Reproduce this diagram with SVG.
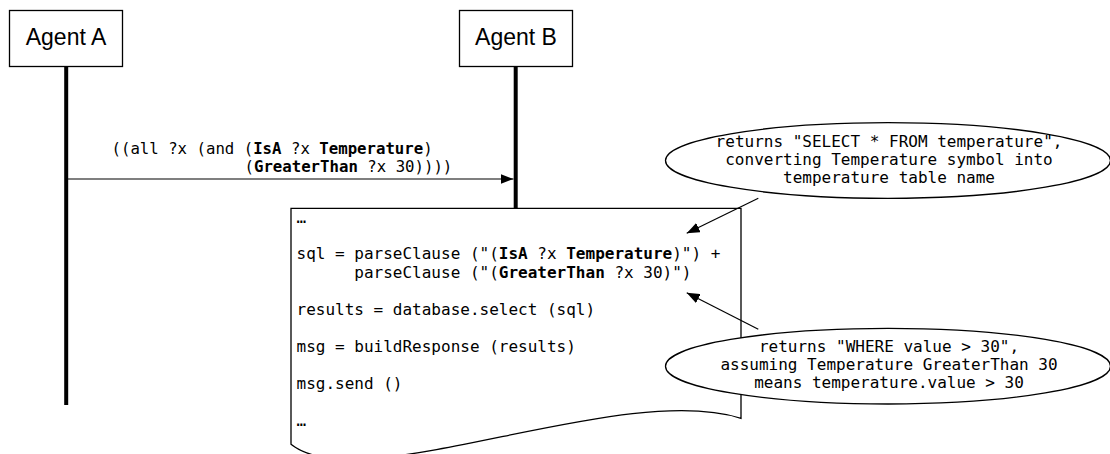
<svg xmlns="http://www.w3.org/2000/svg" width="1110" height="454" viewBox="0 0 1110 454">
<style>
.box{fill:#fff;stroke:#000;stroke-width:1.3}
.life{stroke:#000;stroke-width:4;fill:none}
.lbl{font-family:"Liberation Sans",Arial,sans-serif;font-size:23px;fill:#000;text-anchor:middle}
.mono{font-family:"DejaVu Sans Mono","Liberation Mono",monospace;font-size:16px;fill:#000}
.msg{font-family:"DejaVu Sans Mono","Liberation Mono",monospace;font-size:15.7px;fill:#000}
.mid{text-anchor:middle}
.b{font-weight:bold}
.conn{stroke:#000;stroke-width:1.2;fill:none}
</style>
<defs>
<marker id="ah" markerUnits="userSpaceOnUse" markerWidth="13" markerHeight="10" refX="13" refY="5" orient="auto">
<path d="M0,0 L13,5 L0,10 Z" fill="#000"/>
</marker>
</defs>
<g id="agentA">
<rect class="box" x="9.5" y="10.5" width="113" height="56"/>
<text class="lbl" x="66" y="45">Agent A</text>
<line class="life" x1="66.2" y1="67" x2="66.2" y2="405"/>
</g>
<g id="agentB">
<rect class="box" x="459.5" y="10.5" width="113" height="56"/>
<text class="lbl" x="516" y="45">Agent B</text>
<line class="life" x1="515.7" y1="67" x2="515.7" y2="208"/>
</g>
<g id="code">
<path class="box" d="M291,208.3 L741,208.3 L741,418.3 C620,380 360,500 291,444.3 Z"/>
<text class="mono" x="296.5" y="222.5">…</text>
<text class="mono" x="296.5" y="259">sql = parseClause ("(<tspan class="b">IsA</tspan> ?x <tspan class="b">Temperature</tspan>)") +</text>
<text class="mono" x="354.3" y="277.5">parseClause ("(<tspan class="b">GreaterThan</tspan> ?x 30)")</text>
<text class="mono" x="296.5" y="314.5">results = database.select (sql)</text>
<text class="mono" x="296.5" y="352">msg = buildResponse (results)</text>
<text class="mono" x="296.5" y="389">msg.send ()</text>
<text class="mono" x="296.5" y="426">…</text>
</g>
<g id="note1">
<ellipse class="box" cx="888" cy="160.5" rx="222.5" ry="37.8"/>
<text class="mono mid" x="889" y="146.7">returns "SELECT * FROM temperature",</text>
<text class="mono mid" x="889" y="165">converting Temperature symbol into</text>
<text class="mono mid" x="889" y="183.3">temperature table name</text>
</g>
<g id="note2">
<ellipse class="box" cx="888" cy="366.2" rx="222.5" ry="37.8"/>
<text class="mono mid" x="889" y="351.7">returns "WHERE value &gt; 30",</text>
<text class="mono mid" x="889" y="370">assuming Temperature GreaterThan 30</text>
<text class="mono mid" x="889" y="388.3">means temperature.value &gt; 30</text>
</g>
<g id="connectors">
<line class="conn" x1="66" y1="179" x2="513.5" y2="179" marker-end="url(#ah)"/>
<text class="msg" x="111.5" y="154">((all ?x (and (<tspan class="b">IsA</tspan> ?x <tspan class="b">Temperature</tspan>)</text>
<text class="msg" x="244.5" y="171.5">(<tspan class="b">GreaterThan</tspan> ?x 30))))</text>
<line class="conn" x1="758.3" y1="198.3" x2="686.7" y2="233.3" marker-end="url(#ah)"/>
<line class="conn" x1="758.3" y1="329.3" x2="686.7" y2="292.7" marker-end="url(#ah)"/>
</g>
</svg>
